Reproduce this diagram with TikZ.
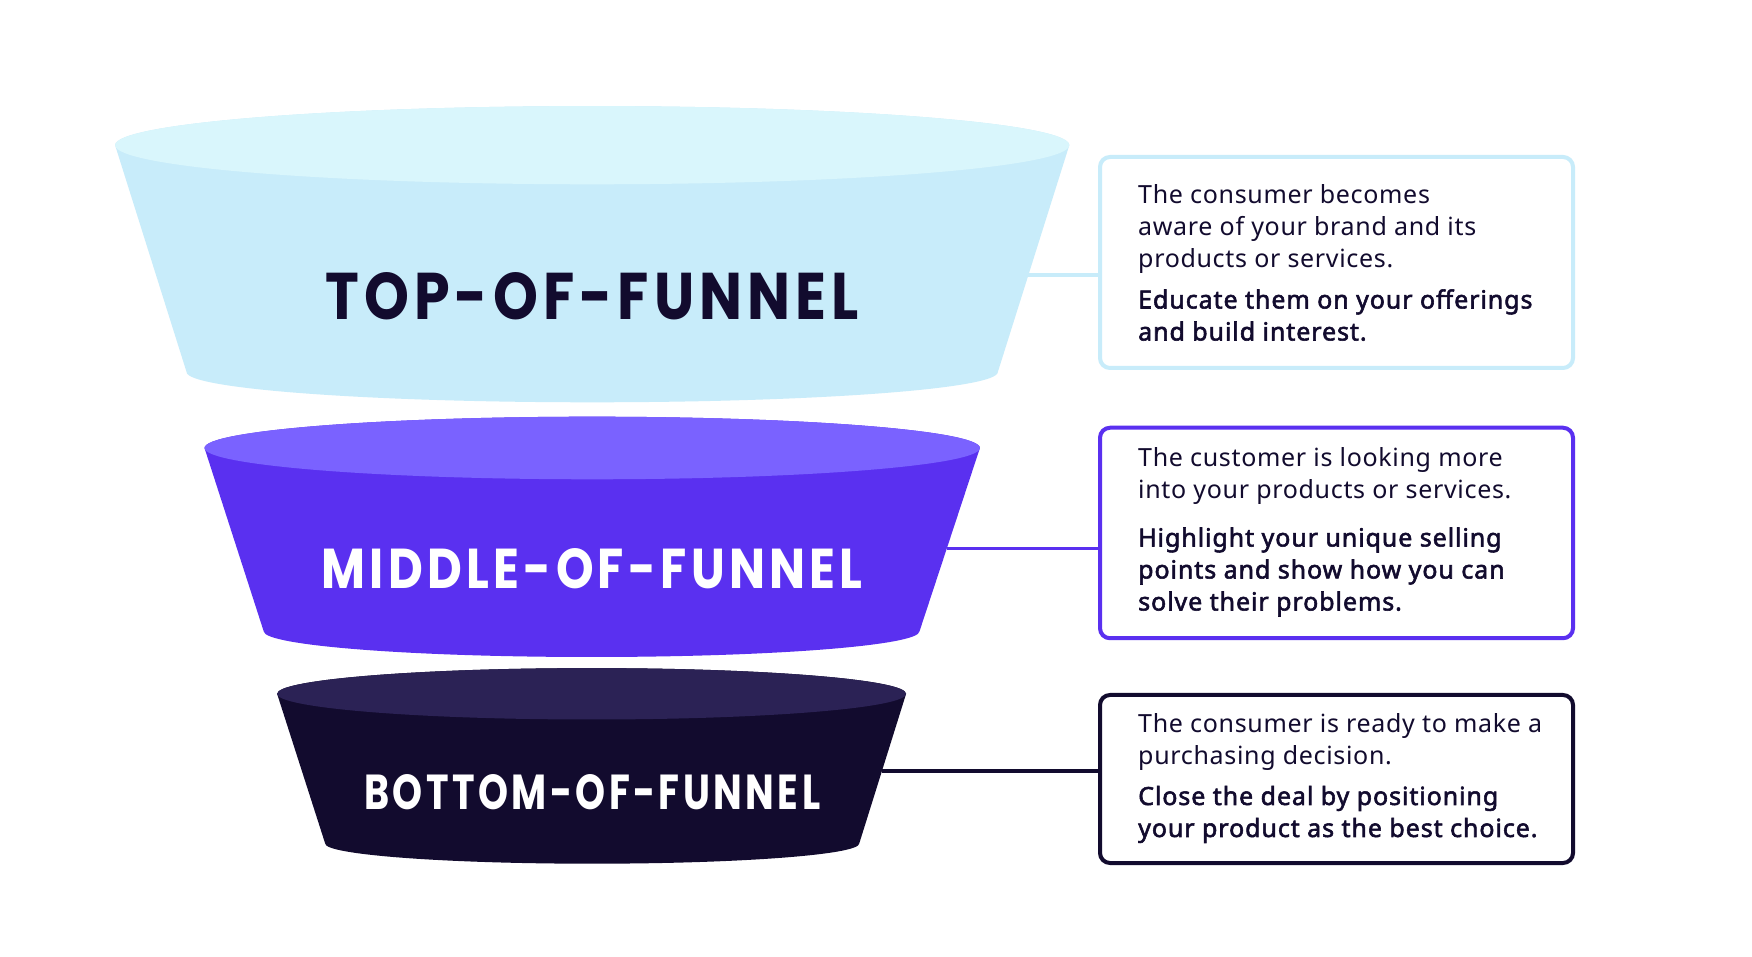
\documentclass[tikz,border=0pt]{standalone}
\usepackage{fontspec}
\setmainfont{Noto Sans}[LetterSpace=2.7]
\newfontfamily\strongfont{Noto Sans}[FakeBold=2.2,LetterSpace=3.7]
\newfontfamily\funnelfont{Poppins}[LetterSpace=9]
\definecolor{toptop}{HTML}{D9F6FC}
\definecolor{topbody}{HTML}{C8ECFA}
\definecolor{midtop}{HTML}{7A62FF}
\definecolor{midbody}{HTML}{5A30F0}
\definecolor{bottop}{HTML}{2B2255}
\definecolor{botbody}{HTML}{120B2E}
\definecolor{textc}{HTML}{120B2E}
\tikzset{
  infobox/.style={draw=#1, line width=4bp, rounded corners=10bp, fill=white,
    minimum width=473bp, inner sep=0pt},
  link/.style={draw=#1, line width=3.5bp},
  plain/.style={anchor=base west, inner sep=0pt, text=textc,
    font=\fontsize{25bp}{32bp}\selectfont},
  strong/.style={anchor=base west, inner sep=0pt, text=textc,
    font=\strongfont\fontsize{25bp}{32bp}\selectfont},
  flabel/.style={anchor=base, inner sep=0pt, font=\funnelfont\bfseries\fontsize{70bp}{80bp}\selectfont}
}
\begin{document}
\begin{tikzpicture}[x=1bp,y=1bp]
\useasboundingbox (0,0) rectangle (1752,956);
\fill[white] (0,0) rectangle (1752,956);

% ---------- top funnel ----------
\fill[topbody] (115.1,810.8) -- (186.6,583.9)
  arc[start angle=180,end angle=360,x radius=405.6,y radius=30.2]
  -- (1069.3,810.8)
  arc[start angle=0,end angle=180,x radius=477.1,y radius=39.1] -- cycle;
\fill[toptop] (592.2,810.8) ellipse[x radius=477.1,y radius=39.1];
\node[flabel, text=textc] (ltop) at (592.2,636)
  {\resizebox{534bp}{47bp}{TOP-OF-FUNNEL}};

% ---------- middle funnel ----------
\fill[midbody] (204.5,508) -- (263.7,324.7)
  arc[start angle=180,end angle=360,x radius=327.9,y radius=25.7]
  -- (979.9,508)
  arc[start angle=0,end angle=180,x radius=387.7,y radius=31.3] -- cycle;
\fill[midtop] (592.2,508) ellipse[x radius=387.7,y radius=31.3];
\node[flabel, text=white] (lmid) at (592.2,367)
  {\resizebox{541bp}{40bp}{MIDDLE-OF-FUNNEL}};

% ---------- bottom funnel ----------
\fill[botbody] (277.1,262.2) -- (325.2,112.4)
  arc[start angle=180,end angle=360,x radius=267,y radius=20.1]
  -- (906.1,262.2)
  arc[start angle=0,end angle=180,x radius=314.5,y radius=25.7] -- cycle;
\fill[bottop] (591.6,262.2) ellipse[x radius=314.5,y radius=25.7];
\node[flabel, text=white] (lbot) at (592.2,146)
  {\resizebox{456bp}{35bp}{BOTTOM-OF-FUNNEL}};

% ---------- boxes ----------
\node[infobox=topbody, minimum height=211bp] (b1) at (1336.5,693.5) {};
\node[infobox=midbody, minimum height=210.5bp] (b2) at (1336.5,423) {};
\node[infobox=botbody, minimum height=168bp] (b3) at (1336.5,177) {};

% ---------- connectors ----------
\coordinate (c1) at (1028,681.1);
\coordinate (c2) at (946.7,407.4);
\coordinate (c3) at (882,185.1);
\draw[link=topbody] (c1) -- (b1.west |- c1);
\draw[link=midbody] (c2) -- (b2.west |- c2);
\draw[link=botbody] (c3) -- (b3.west |- c3);

% ---------- box texts ----------
\node[plain] (t1a) at (1138,752.5) {The consumer becomes};
\node[plain] (t1b) at (1138,720.5) {aware of your brand and its};
\node[plain] (t1c) at (1138,688.5) {products or services.};
\node[strong] (t1d) at (1138,647.5) {Educate them on your offerings};
\node[strong] (t1e) at (1138,615.5) {and build interest.};

\node[plain] (t2a) at (1138,489) {The customer is looking more};
\node[plain] (t2b) at (1138,457) {into your products or services.};
\node[strong] (t2c) at (1138,409.5) {Highlight your unique selling};
\node[strong] (t2d) at (1138,377.5) {points and show how you can};
\node[strong] (t2e) at (1138,345.5) {solve their problems.};

\node[plain] (t3a) at (1138,223) {The consumer is ready to make a};
\node[plain] (t3b) at (1138,191) {purchasing decision.};
\node[strong] (t3c) at (1138,151) {Close the deal by positioning};
\node[strong] (t3d) at (1138,119) {your product as the best choice.};
\end{tikzpicture}
\end{document}
